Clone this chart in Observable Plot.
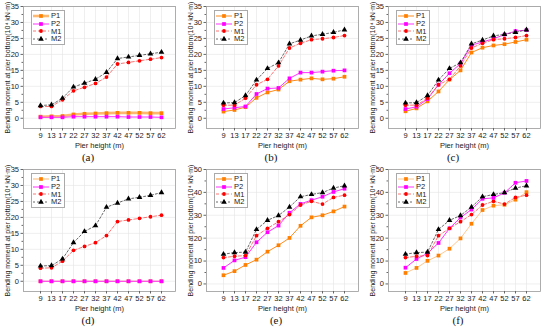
<!DOCTYPE html>
<html><head><meta charset="utf-8">
<script src="https://cdn.jsdelivr.net/npm/d3@7"></script>
<script src="https://cdn.jsdelivr.net/npm/@observablehq/plot@0.6"></script>
<style>
body{margin:0;background:#fff;font-family:"Liberation Sans",Arial,sans-serif;}
#wrap{position:relative;width:550px;height:328px;overflow:hidden;background:#fff}
.panel{position:absolute;width:183px;height:165px}
.panel svg{position:absolute;left:0;top:0}
.tag{position:absolute;font-family:"Liberation Serif","Times New Roman",serif;font-size:11px;color:#111;transform:translateX(-50%);line-height:1}
.legend{position:absolute;left:31px;top:10px;border:0.8px solid #aaa;background:#fff;padding:1px 3px 1px 1px;font-size:7.5px;color:#222}
.legend div{display:flex;align-items:center;height:7.7px}
.legend svg{position:static;margin-right:2px}
</style></head>
<body><div id="wrap"></div>
<script>
const heights = [9,13,17,22,27,32,37,42,47,52,57,62];
const seriesNames = ["P1","P2","M1","M2"];

const aP1 = [0.5,0.6,0.7,1.2,1.4,1.5,1.6,1.7,1.7,1.7,1.6,1.6];
const aP2 = [0.3,0.3,0.3,0.5,0.5,0.5,0.5,0.5,0.4,0.4,0.4,0.3];
const aM1 = [3.7,3.7,5.8,8.6,9.7,10.9,12.9,17.0,17.5,18.0,18.5,19.0];
const aM2 = [4.0,4.2,6.3,9.8,11.0,12.2,14.4,18.7,19.2,19.7,20.2,20.7];

const bP1 = [2.1,2.6,3.5,6.4,8.1,9.0,11.6,12.1,12.5,12.2,12.4,13.0];
const bP2 = [2.9,3.3,3.7,7.6,9.3,9.5,12.5,14.3,14.3,14.6,14.9,15.0];
const bM1 = [4.1,4.1,6.3,10.5,12.2,16.4,22.0,23.5,24.6,24.9,25.3,25.9];
const bM2 = [4.8,4.9,7.1,12.0,15.6,17.4,23.3,24.5,25.8,26.3,26.9,27.7];

const cP1 = [2.2,3.1,5.3,8.4,12.1,15.0,20.6,22.1,22.8,23.2,23.9,24.6];
const cP2 = [2.9,3.6,6.0,10.5,14.1,17.1,22.9,23.9,24.9,26.2,27.3,27.6];
const cM1 = [4.1,4.1,6.3,10.5,12.2,16.4,22.0,23.5,24.6,24.9,25.3,25.9];
const cM2 = [4.8,4.9,7.1,12.0,15.6,17.4,23.3,24.5,25.8,26.3,26.9,27.7];

const dP1 = [0,0,0,0,0,0,0,0,0,0,0,0];
const dP2 = [0,0,0,0,0,0,0,0,0,0,0,0];
const dM1 = [4.1,4.2,6.3,9.7,10.9,12.1,14.3,18.7,19.2,19.7,20.2,20.7];
const dM2 = [4.8,4.9,7.0,12.1,15.6,17.4,23.2,24.5,25.8,26.3,26.9,27.8];

const eP1 = [3.8,5.6,8.3,10.6,14.1,16.9,20.1,25.4,29.1,30.0,31.7,33.8];
const eP2 = [7.0,10.3,11.7,18.2,22.6,25.5,31.1,35.0,36.6,38.1,40.2,41.6];
const eM1 = [11.5,12.1,12.4,21.1,24.3,27.2,30.3,34.5,36.1,34.9,37.8,38.8];
const eM2 = [13.0,13.7,13.9,23.8,27.8,29.9,33.6,38.1,39.1,39.9,41.9,42.9];

const fP1 = [4.8,7.0,10.1,12.4,15.4,19.9,26.3,32.3,34.2,34.6,36.8,40.1];
const fP2 = [7.1,10.9,13.4,17.9,24.3,29.0,32.5,37.2,37.6,39.8,44.2,45.0];
const fM1 = [11.5,12.1,12.4,21.1,24.3,27.2,30.3,34.5,36.1,34.9,37.8,38.8];
const fM2 = [13.0,13.7,13.9,23.8,27.8,29.9,33.6,38.1,39.1,39.9,41.9,42.9];

const yTicks35 = [0,5,10,15,20,25,30,35];
const yTicks50 = [0,10,20,30,40,50];

const xTitle = "Pier height (m)";
const yTitle = "Bending moment at pier bottom(10\u2074 kN\u00B7m)";

const panels = [
  {tag:"(a)", left:0, top:0, tagX:88, data:[aP1,aP2,aM1,aM2], ymax:35, ymin:-3.2, ticks:yTicks35, step:5, p1:{stroke:"#ffb870", w:2.6}},
  {tag:"(b)", left:183, top:0, tagX:88, data:[bP1,bP2,bM1,bM2], ymax:35, ymin:-3.2, ticks:yTicks35, step:5, p1:{stroke:"#ff8c1a", w:1}},
  {tag:"(c)", left:365, top:0, tagX:88, data:[cP1,cP2,cM1,cM2], ymax:35, ymin:-3.2, ticks:yTicks35, step:5, p1:{stroke:"#ff8c1a", w:1}},
  {tag:"(d)", left:0, top:163, tagX:88, data:[dP1,dP2,dM1,dM2], ymax:35, ymin:-3.2, ticks:yTicks35, step:5, p1:{stroke:"#ffb870", w:1}},
  {tag:"(e)", left:183, top:163, tagX:93, data:[eP1,eP2,eM1,eM2], ymax:50, ymin:-3.3, ticks:yTicks50, step:10, p1:{stroke:"#ff8c1a", w:1}},
  {tag:"(f)", left:365, top:163, tagX:93, data:[fP1,fP2,fM1,fM2], ymax:50, ymin:-3.3, ticks:yTicks50, step:10, p1:{stroke:"#ffc890", w:1}}
];

const styleFor = (p) => ({
  P1:{stroke:p.p1.stroke, w:p.p1.w, dash:null, fill:"#ff8000", symbol:"square", r:2.1},
  P2:{stroke:"#ff33ff", w:1, dash:null, fill:"#ff00ff", symbol:"square", r:2.1},
  M1:{stroke:"#ff5050", w:0.8, dash:"3,2", fill:"#ff0000", symbol:"circle", r:1.9},
  M2:{stroke:"#444", w:0.8, dash:"2,2", fill:"#000", symbol:"triangle", r:2.1}
});

const wrap = document.getElementById("wrap");
const W = 183, H = 150, mL = 23, mR = 8, mT = 6, mB = 22;

for (const p of panels) {
  const st = styleFor(p);
  const rows = [];
  p.data.forEach((arr, si) => arr.forEach((v, i) => rows.push({h: heights[i], v, s: seriesNames[si]})));
  const minor = d3.range(p.step/2, p.ymax, p.step);
  const marks = [
    Plot.gridX(heights, {stroke:"#e4e4e4", strokeOpacity:1, strokeWidth:0.6}),
    Plot.gridY(p.ticks, {stroke:"#e4e4e4", strokeOpacity:1, strokeWidth:0.6}),
    Plot.frame({stroke:"#9a9a9a", strokeWidth:0.8})
  ];
  for (const s of seriesNames) {
    const d = rows.filter(r => r.s === s);
    const o = st[s];
    marks.push(Plot.line(d, {x:"h", y:"v", stroke:o.stroke, strokeWidth:o.w, strokeDasharray:o.dash}));
    marks.push(Plot.dot(d, {x:"h", y:"v", symbol:()=>o.symbol, fill:o.fill, r:o.r, stroke:"none"}));
  }
  marks.push(Plot.axisX(heights, {tickSize:2.5, tickPadding:2, fontSize:7.5, fill:"#222", stroke:"#666", label:xTitle, labelAnchor:"center", labelOffset:19, labelArrow:"none"}));
  marks.push(Plot.axisY(p.ticks, {tickSize:2.5, tickPadding:2, fontSize:7.5, fill:"#222", stroke:"#666", label:null}));
  marks.push(Plot.axisY(minor, {tickSize:1.5, tickFormat:()=>"", stroke:"#666", fontSize:7, fill:"#222", label:yTitle, labelAnchor:"center", labelOffset:18, labelArrow:"none"}));
  const chart = Plot.plot({
    width:W, height:H, marginLeft:mL, marginRight:mR, marginTop:mT, marginBottom:mB,
    style:{fontFamily:"'Liberation Sans', Arial, sans-serif", fontSize:"7.3px", background:"transparent", color:"#222"},
    x:{type:"point", domain:heights, range:[mL+8.3, W-mR-5]},
    y:{domain:[p.ymin, p.ymax]},
    marks
  });
  const div = document.createElement("div");
  div.className = "panel";
  div.style.left = p.left + "px";
  div.style.top = p.top + "px";
  div.appendChild(chart);
  const lg = document.createElement("div");
  lg.className = "legend";
  for (const s of seriesNames) {
    const o = st[s];
    const row = document.createElement("div");
    const ns = "http://www.w3.org/2000/svg";
    const sv = document.createElementNS(ns, "svg");
    sv.setAttribute("width", 16); sv.setAttribute("height", 6);
    const ln = document.createElementNS(ns, "line");
    ln.setAttribute("x1", 0); ln.setAttribute("x2", 16); ln.setAttribute("y1", 3); ln.setAttribute("y2", 3);
    ln.setAttribute("stroke", o.stroke); ln.setAttribute("stroke-width", o.w);
    if (o.dash) ln.setAttribute("stroke-dasharray", o.dash);
    sv.appendChild(ln);
    const sym = d3.symbol().type(o.symbol === "square" ? d3.symbolSquare : o.symbol === "triangle" ? d3.symbolTriangle : d3.symbolCircle).size(Math.PI * o.r * o.r);
    const path = document.createElementNS(ns, "path");
    path.setAttribute("d", sym());
    path.setAttribute("transform", "translate(8,3)");
    path.setAttribute("fill", o.fill);
    sv.appendChild(path);
    row.appendChild(sv);
    const t = document.createElement("span");
    t.textContent = s;
    row.appendChild(t);
    lg.appendChild(row);
  }
  div.appendChild(lg);
  const tag = document.createElement("div");
  tag.className = "tag";
  tag.textContent = p.tag;
  tag.style.left = p.tagX + "px";
  tag.style.top = "152px";
  div.appendChild(tag);
  wrap.appendChild(div);
}
</script></body></html>
